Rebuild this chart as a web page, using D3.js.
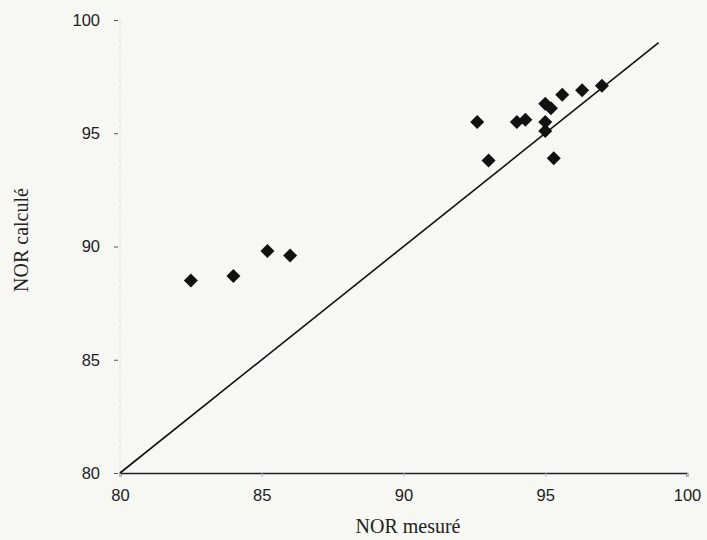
<!DOCTYPE html>
<html>
<head>
<meta charset="utf-8">
<script src="https://cdn.jsdelivr.net/npm/d3@7/dist/d3.min.js"></script>
<style>
  html, body { margin: 0; padding: 0; background: #f7f7f4; }
  svg { display: block; }
</style>
</head>
<body>
<svg id="chart" width="707" height="540"></svg>
<script>
const measured   = [82.5, 84.0, 85.2, 86.0, 92.6, 93.0, 94.0, 94.3, 95.0, 95.2, 95.0, 95.0, 95.3, 95.6, 96.3, 97.0];
const calculated = [88.5, 88.7, 89.8, 89.6, 95.5, 93.8, 95.5, 95.6, 96.3, 96.1, 95.5, 95.1, 93.9, 96.7, 96.9, 97.1];
const xTicks = [80, 85, 90, 95, 100];
const yTicks = [80, 85, 90, 95, 100];
const diagonal = [80, 99];
const xTitle = "NOR mesuré";
const yTitle = "NOR calculé";

const points = measured.map((m, i) => ({x: m, y: calculated[i]}));

const svg = d3.select("#chart");
svg.append("rect").attr("width", 707).attr("height", 540).attr("fill", "#f7f7f4");

const x = d3.scaleLinear().domain([80, 100]).range([120, 687]);
const y = d3.scaleLinear().domain([80, 100]).range([473, 20]);

// faint y axis line
svg.append("line")
  .attr("x1", x(80)).attr("x2", x(80))
  .attr("y1", y(100)).attr("y2", y(80))
  .attr("stroke", "#d8d8d4").attr("stroke-width", 1)
  .attr("stroke-dasharray", "3,2");

// y axis ticks + labels
const yAxis = d3.axisLeft(y).tickValues(yTicks).tickSize(4).tickPadding(14);
const gy = svg.append("g").attr("transform", `translate(${x(80) - 2},0)`).call(yAxis);
gy.select(".domain").remove();
gy.selectAll(".tick line").attr("stroke", "#555").attr("stroke-width", 1);
gy.selectAll(".tick text")
  .attr("font-family", "'Liberation Sans', Arial, sans-serif")
  .attr("font-size", 16.5).attr("fill", "#222");

// x axis
const xAxis = d3.axisBottom(x).tickValues(xTicks).tickSize(4).tickPadding(12);
const gx = svg.append("g").attr("transform", `translate(0,${y(80)})`).call(xAxis);
gx.select(".domain").attr("stroke", "#222").attr("stroke-width", 1.6);
gx.selectAll(".tick line").attr("stroke", "#bbb").attr("stroke-width", 1);
gx.selectAll(".tick text")
  .attr("font-family", "'Liberation Sans', Arial, sans-serif")
  .attr("font-size", 16.5).attr("fill", "#222");

// y = x reference line
svg.append("line")
  .attr("x1", x(diagonal[0])).attr("y1", y(diagonal[0]))
  .attr("x2", x(diagonal[1])).attr("y2", y(diagonal[1]))
  .attr("stroke", "#111").attr("stroke-width", 1.6);

// points (diamonds)
const sym = d3.symbol().type(d3.symbolSquare).size(98);
svg.append("g").selectAll("path").data(points).join("path")
  .attr("d", sym)
  .attr("transform", d => `translate(${x(d.x)},${y(d.y)}) rotate(45)`)
  .attr("fill", "#111");

// axis titles
svg.append("text")
  .attr("x", 408).attr("y", 533)
  .attr("text-anchor", "middle")
  .attr("font-family", "'Liberation Serif', 'Times New Roman', serif")
  .attr("font-size", 20).attr("fill", "#222")
  .text(xTitle);

svg.append("text")
  .attr("transform", "translate(28,240) rotate(-90)")
  .attr("text-anchor", "middle")
  .attr("font-family", "'Liberation Serif', 'Times New Roman', serif")
  .attr("font-size", 20).attr("fill", "#222")
  .text(yTitle);
</script>
</body>
</html>
